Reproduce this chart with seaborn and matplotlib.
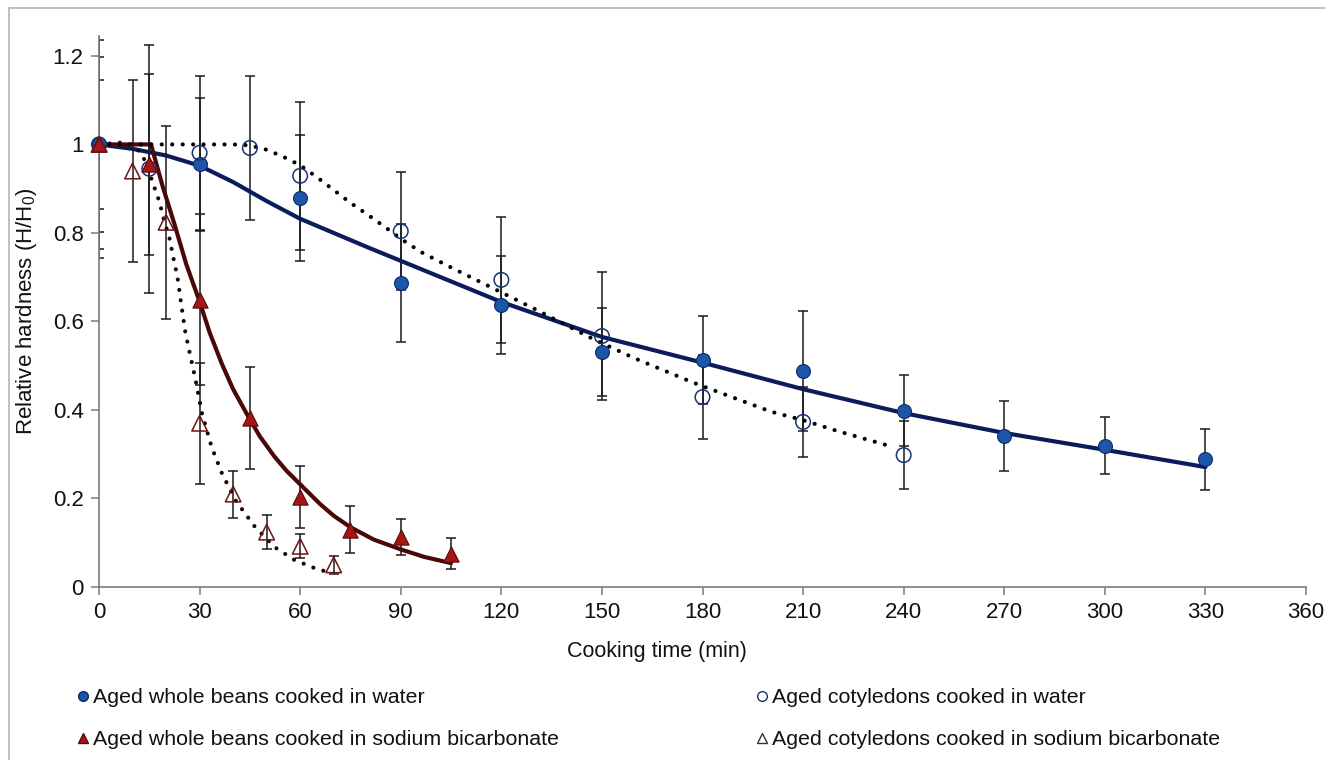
import matplotlib
matplotlib.use("Agg")
import matplotlib.pyplot as plt
import seaborn as sns
from matplotlib.lines import Line2D

# ---------------- data ----------------
t_whole_water = [0, 30, 60, 90, 120, 150, 180, 210, 240, 270, 300, 330]
h_whole_water = [1.0, 0.955, 0.879, 0.687, 0.637, 0.531, 0.513, 0.488, 0.398, 0.341, 0.319, 0.289]
e_whole_water = [0.146, 0.15, 0.143, 0.134, 0.11, 0.10, 0.10, 0.135, 0.08, 0.079, 0.064, 0.069]

t_cot_water = [0, 15, 30, 45, 60, 90, 120, 150, 180, 210, 240]
h_cot_water = [1.0, 0.945, 0.981, 0.992, 0.929, 0.804, 0.694, 0.567, 0.429, 0.373, 0.298]
e_cot_water = [0.197, 0.28, 0.174, 0.162, 0.168, 0.134, 0.142, 0.145, 0.095, 0.08, 0.077]

t_whole_bicarb = [0, 15, 30, 45, 60, 75, 90, 105]
h_whole_bicarb = [1.0, 0.955, 0.649, 0.382, 0.203, 0.129, 0.113, 0.075]
e_whole_bicarb = [0.236, 0.205, 0.193, 0.115, 0.07, 0.053, 0.04, 0.035]

t_cot_bicarb = [0, 10, 20, 30, 40, 50, 60, 70]
h_cot_bicarb = [1.0, 0.94, 0.824, 0.37, 0.21, 0.124, 0.092, 0.05]
e_cot_bicarb = [0.257, 0.205, 0.218, 0.137, 0.053, 0.038, 0.027, 0.02]

# fitted model curves
fit_t_whole_water = [0, 10, 20, 30, 40, 50, 60, 70, 80, 90, 100, 120, 150, 180, 210, 240, 270, 300, 330]
fit_h_whole_water = [1.0, 0.99, 0.975, 0.952, 0.915, 0.872, 0.832, 0.80, 0.768, 0.737, 0.706, 0.644,
                     0.565, 0.507, 0.447, 0.393, 0.348, 0.31, 0.271]

fit_t_cot_water = [0, 30, 40, 45, 50, 55, 60, 65, 70, 75, 80, 85, 90, 96, 105, 118.6, 130, 148, 160,
                   177.5, 200.5, 210, 220, 237]
fit_h_cot_water = [1.0, 1.0, 1.0, 0.998, 0.988, 0.972, 0.953, 0.926, 0.897, 0.868, 0.842, 0.815, 0.787,
                   0.757, 0.722, 0.671, 0.628, 0.558, 0.516, 0.461, 0.396, 0.377, 0.353, 0.316]

fit_t_whole_bicarb = [0, 15.5, 19, 22.5, 26, 30, 33, 36.6, 40, 44.6, 48, 52.3, 56, 60, 66, 70, 75,
                      82, 90, 97, 105]
fit_h_whole_bicarb = [1.0, 1.0, 0.905, 0.82, 0.73, 0.645, 0.575, 0.505, 0.447, 0.384, 0.34, 0.295,
                      0.262, 0.232, 0.187, 0.161, 0.135, 0.107, 0.085, 0.068, 0.054]

fit_t_cot_bicarb = [0, 8, 12, 14, 16, 18, 19.4, 21, 22.2, 23.4, 24.6, 25.8, 28.8, 30.7, 33.6, 36.6,
                    40.6, 46.5, 52.4, 58.3, 64.2, 69]
fit_h_cot_bicarb = [1.0, 1.005, 0.985, 0.96, 0.914, 0.871, 0.829, 0.789, 0.743, 0.701, 0.635, 0.573,
                    0.468, 0.393, 0.316, 0.258, 0.197, 0.136, 0.09, 0.061, 0.043, 0.032]

x_ticks = [0, 30, 60, 90, 120, 150, 180, 210, 240, 270, 300, 330, 360]
y_ticks = [0, 0.2, 0.4, 0.6, 0.8, 1.0, 1.2]
y_tick_labels = ["0", "0.2", "0.4", "0.6", "0.8", "1", "1.2"]

labels = ["Aged whole beans cooked in water",
          "Aged cotyledons cooked in water",
          "Aged whole beans cooked in sodium bicarbonate",
          "Aged cotyledons cooked in sodium bicarbonate"]

# ---------------- style ----------------
sns.set_theme(style="white")
plt.rcParams["font.family"] = ["Liberation Sans", "DejaVu Sans"]
plt.rcParams["mathtext.default"] = "regular"

BLUE_FILL = "#1d56a8"
BLUE_EDGE = "#0c2a66"
NAVY = "#0b1c5a"
RED_FILL = "#a51616"
RED_EDGE = "#5a0808"
MAROON = "#4a0808"
OPEN_BLUE = "#17346f"
OPEN_RED = "#6a1414"

W, H = 1325, 760
fig = plt.figure(figsize=(W / 100, H / 100), dpi=100)
ax = fig.add_axes([99 / W, 1 - 587 / H, (1306 - 99) / W, (587 - 36) / H])

dot = (0, (0.01, 2.5))

# error bars
for t, h, e in [(t_whole_water, h_whole_water, e_whole_water),
                (t_cot_water, h_cot_water, e_cot_water),
                (t_whole_bicarb, h_whole_bicarb, e_whole_bicarb),
                (t_cot_bicarb, h_cot_bicarb, e_cot_bicarb)]:
    ax.errorbar(t, h, yerr=e, fmt="none", ecolor="#1a1a1a", elinewidth=1.1,
                capsize=3.6, capthick=1.1, zorder=2)

# fitted curves
sns.lineplot(x=fit_t_whole_water, y=fit_h_whole_water, ax=ax, color=NAVY, linewidth=3.0,
             zorder=3, legend=False)
sns.lineplot(x=fit_t_whole_bicarb, y=fit_h_whole_bicarb, ax=ax, color=MAROON, linewidth=3.0,
             zorder=3, legend=False)
sns.lineplot(x=fit_t_cot_water, y=fit_h_cot_water, ax=ax, color="black", linewidth=3.0,
             linestyle=dot, dash_capstyle="round", zorder=3, legend=False)
sns.lineplot(x=fit_t_cot_bicarb, y=fit_h_cot_bicarb, ax=ax, color="#1a0404", linewidth=3.0,
             linestyle=dot, dash_capstyle="round", zorder=3, legend=False)

# markers
sns.scatterplot(x=t_whole_water, y=h_whole_water, ax=ax, marker="o", s=100, color=BLUE_FILL,
                edgecolor=BLUE_EDGE, linewidth=0.8, zorder=5, clip_on=False, legend=False)
sns.scatterplot(x=t_cot_water, y=h_cot_water, ax=ax, marker="o", s=110, facecolor="none",
                edgecolor=OPEN_BLUE, linewidth=1.1, zorder=5, clip_on=False, legend=False)
sns.scatterplot(x=t_whole_bicarb, y=h_whole_bicarb, ax=ax, marker="^", s=120, color=RED_FILL,
                edgecolor=RED_EDGE, linewidth=0.8, zorder=5, clip_on=False, legend=False)
sns.scatterplot(x=t_cot_bicarb, y=h_cot_bicarb, ax=ax, marker="^", s=125, facecolor="none",
                edgecolor=OPEN_RED, linewidth=1.1, zorder=5, clip_on=False, legend=False)

# axes
ax.set_xlim(0, 360)
ax.set_ylim(0, 1.245)
ax.set_xticks(x_ticks)
ax.set_xticklabels([str(v) for v in x_ticks])
ax.set_yticks(y_ticks)
ax.set_yticklabels(y_tick_labels)
for s in ["top", "right"]:
    ax.spines[s].set_visible(False)
for s in ["left", "bottom"]:
    ax.spines[s].set_color("#7a7a7a")
    ax.spines[s].set_linewidth(1.2)
ax.tick_params(axis="both", which="major", direction="out", length=6, width=1.1,
               color="#7a7a7a", labelsize=16, labelcolor="#111111", pad=5,
               left=True, bottom=True)
ax.set_xlabel("Cooking time (min)", fontsize=15.5, color="#111111")
ax.xaxis.set_label_coords((657 - 99) / (1306 - 99), -(641 - 587) / (587 - 36))
ax.set_ylabel("Relative hardness (H/H$_0$)", fontsize=16, color="#111111", labelpad=10)
ax.set_facecolor("white")
ax.grid(False)

# legend (two columns)
hw = Line2D([], [], marker="o", linestyle="none", markersize=7, markerfacecolor=BLUE_FILL,
            markeredgecolor=BLUE_EDGE)
hcw = Line2D([], [], marker="o", linestyle="none", markersize=7, markerfacecolor="none",
             markeredgecolor=OPEN_BLUE)
hb = Line2D([], [], marker="^", linestyle="none", markersize=7, markerfacecolor=RED_FILL,
            markeredgecolor=RED_EDGE)
hcb = Line2D([], [], marker="^", linestyle="none", markersize=7, markerfacecolor="none",
             markeredgecolor="#333333")
common = dict(frameon=False, fontsize=15.4, handlelength=0.5, handletextpad=0.2,
              labelspacing=1.08, borderaxespad=0, borderpad=0, labelcolor="#111111")
leg1 = fig.legend([hw, hb], [labels[0], labels[2]], loc="upper left",
                  bbox_to_anchor=(78 / W, 1 - 688 / H), **common)
leg2 = fig.legend([hcw, hcb], [labels[1], labels[3]], loc="upper left",
                  bbox_to_anchor=(757 / W, 1 - 688 / H), **common)

# thin outer frame of the original picture
fig.add_artist(Line2D([9 / W, 9 / W], [0, 1 - 8 / H], transform=fig.transFigure,
                      color="#b5b5b5", linewidth=1.2))
fig.add_artist(Line2D([9 / W, 1], [1 - 8 / H, 1 - 8 / H], transform=fig.transFigure,
                      color="#b5b5b5", linewidth=1.2))

fig.savefig("out.png", dpi=100, facecolor="white")
